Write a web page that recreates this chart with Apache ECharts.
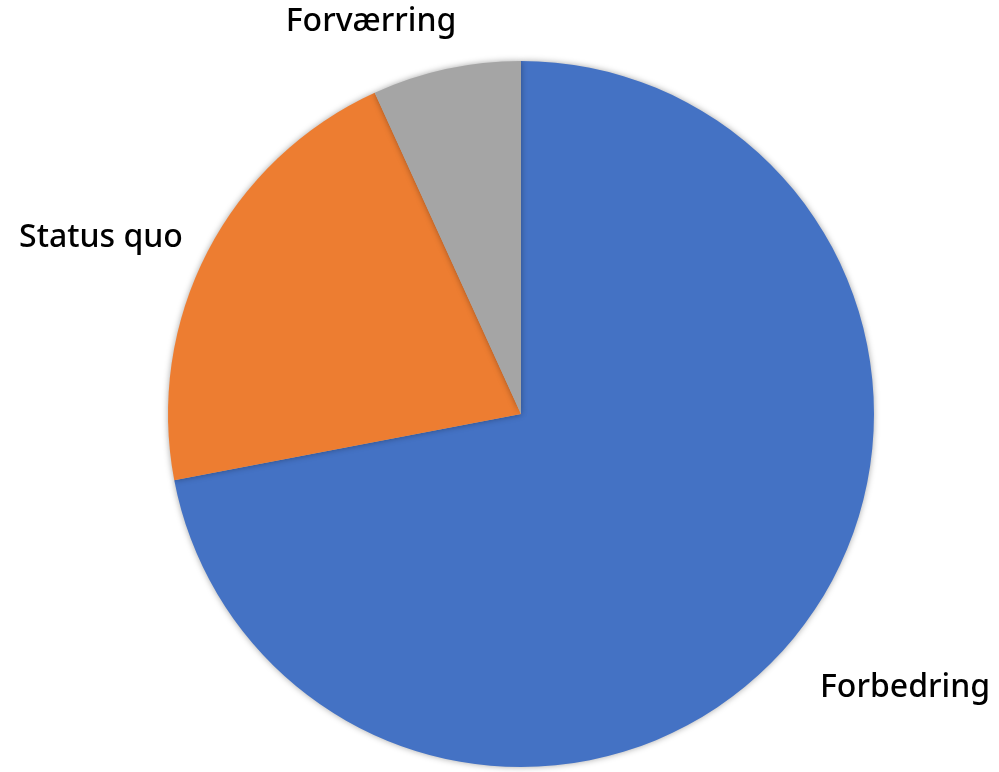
<!DOCTYPE html>
<html>
<head>
<meta charset="utf-8">
<script src="https://cdn.jsdelivr.net/npm/echarts@6/dist/echarts.min.js"></script>
<style>
html,body{margin:0;padding:0;background:#fff;}
#chart{width:999px;height:772px;}
</style>
</head>
<body>
<div id="chart"></div>
<script>
const categories = ["Forbedring", "Status quo", "Forværring"];
const values = [72, 21.2, 6.8];
const colors = ["#4472C4", "#ED7D31", "#A5A5A5"];
const labelPos = {"Forbedring": [905, 688], "Status quo": [101, 238], "Forværring": [371, 22]};

const chart = echarts.init(document.getElementById('chart'), null, {renderer: 'canvas'});
chart.setOption({
  animation: false,
  series: [{
    type: 'pie',
    center: [521, 414],
    radius: [0, 353],
    startAngle: 90,
    clockwise: true,
    data: categories.map((c, i) => ({name: c, value: values[i], itemStyle: {color: colors[i]}})),
    itemStyle: {shadowBlur: 6, shadowColor: 'rgba(0,0,0,0.35)'},
    label: {
      show: true,
      position: 'outside',
      formatter: '{b}',
      fontFamily: '"Noto Sans", sans-serif',
      fontSize: 32,
      fontWeight: 500,
      color: '#000',
      overflow: 'none',
      width: 400,
      alignTo: 'none'
    },
    labelLine: {show: false},
    labelLayout: function (p) {
      const pos = labelPos[categories[p.dataIndex]];
      return {x: pos[0], y: pos[1], align: 'center', verticalAlign: 'middle', hideOverlap: false, moveOverlap: null};
    },
    emphasis: {disabled: true}
  }]
});
</script>
</body>
</html>
